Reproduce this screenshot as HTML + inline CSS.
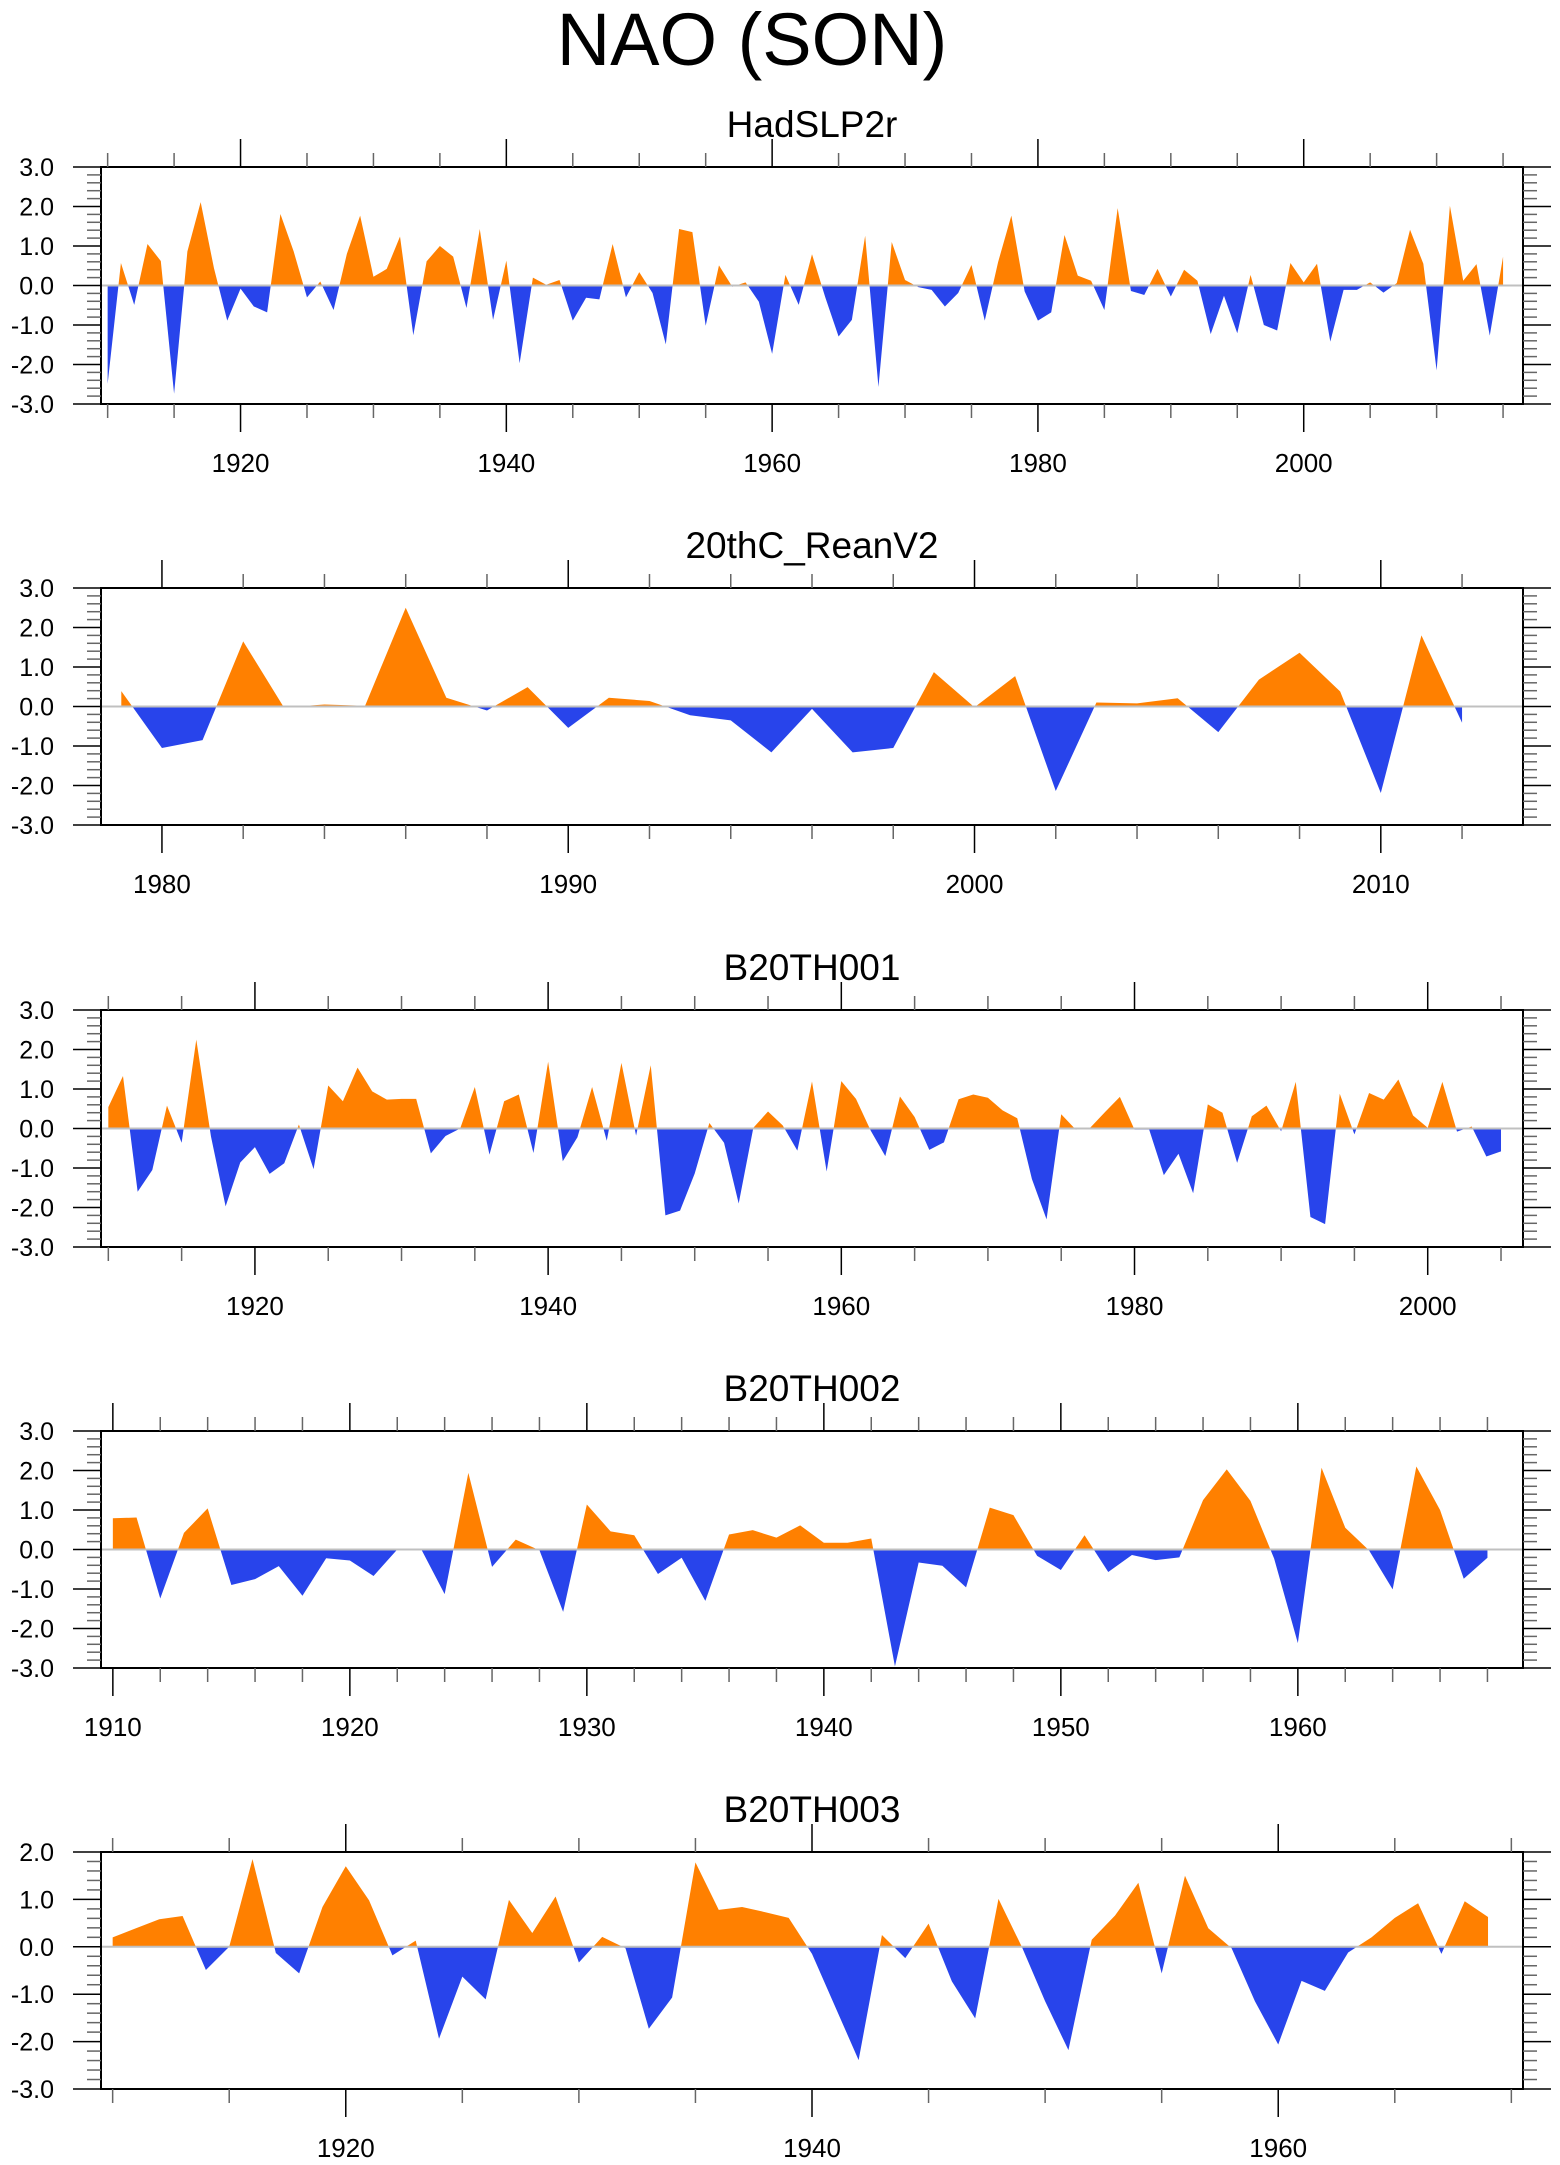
<!DOCTYPE html>
<html><head><meta charset="utf-8"><title>NAO (SON)</title>
<style>
html,body{margin:0;padding:0;background:#fff;}
svg{display:block;font-family:"Liberation Sans",Arial,sans-serif;}
</style></head>
<body>
<svg id="chart" width="1560" height="2165" viewBox="0 0 1560 2165" xmlns="http://www.w3.org/2000/svg">
<text x="752" y="65" font-size="74" text-anchor="middle" fill="#000">NAO (SON)</text>
</svg>
<script>
// ---- data (NAO SON index per year) ----
const hadStart = 1910;
const hadValues = [-2.49,0.57,-0.49,1.05,0.62,-2.74,0.86,2.11,0.44,-0.89,
-0.08,-0.53,-0.68,1.81,0.86,-0.30,0.10,-0.62,0.80,1.77,
0.22,0.42,1.24,-1.26,0.61,1.00,0.73,-0.57,1.43,-0.87,
0.63,-1.97,0.20,0.02,0.14,-0.89,-0.31,-0.35,1.05,-0.30,
0.34,-0.19,-1.49,1.43,1.35,-1.02,0.51,-0.03,0.08,-0.41,
-1.73,0.27,-0.49,0.79,-0.30,-1.29,-0.87,1.26,-2.57,1.10,
0.14,-0.04,-0.11,-0.53,-0.19,0.52,-0.89,0.59,1.77,-0.15,
-0.89,-0.68,1.28,0.25,0.12,-0.62,1.96,-0.14,-0.24,0.42,
-0.28,0.40,0.12,-1.23,-0.26,-1.21,0.27,-1.00,-1.14,0.57,
0.08,0.55,-1.42,-0.11,-0.11,0.08,-0.18,0.06,1.41,0.55,
-2.15,2.02,0.12,0.54,-1.27,0.73];
const reanStart = 1979;
const reanValues = [0.39,-1.05,-0.85,1.65,-0.02,0.05,0.02,2.50,0.22,-0.10,
0.49,-0.54,0.22,0.14,-0.22,-0.35,-1.16,-0.06,-1.16,-1.05,
0.87,-0.02,0.77,-2.14,0.10,0.08,0.21,-0.65,0.68,1.36,
0.38,-2.19,1.80,-0.41];
const b1Start = 1910;
const b1Values = [0.54,1.33,-1.60,-1.05,0.58,-0.36,2.25,-0.20,-1.97,-0.86,
-0.47,-1.15,-0.88,0.10,-1.03,1.09,0.69,1.54,0.94,0.73,
0.75,0.75,-0.63,-0.19,0.00,1.05,-0.66,0.69,0.86,-0.62,
1.69,-0.83,-0.22,1.05,-0.31,1.66,-0.18,1.60,-2.20,-2.08,
-1.14,0.14,-0.36,-1.90,0.02,0.43,0.08,-0.56,1.19,-1.09,
1.20,0.75,-0.05,-0.70,0.81,0.29,-0.54,-0.35,0.74,0.86,
0.78,0.46,0.26,-1.28,-2.30,0.36,-0.03,0.03,0.42,0.80,
-0.03,-0.03,-1.18,-0.64,-1.64,0.61,0.40,-0.87,0.31,0.58,
-0.07,1.18,-2.24,-2.42,0.88,-0.15,0.90,0.73,1.24,0.33,
0.02,1.18,-0.08,0.05,-0.71,-0.58];
const b2Start = 1910;
const b2Values = [0.79,0.81,-1.24,0.42,1.04,-0.90,-0.75,-0.42,-1.17,-0.22,
-0.28,-0.67,0.00,0.02,-1.13,1.94,-0.44,0.25,-0.02,-1.58,
1.14,0.46,0.36,-0.62,-0.21,-1.30,0.38,0.49,0.30,0.61,
0.17,0.17,0.28,-2.96,-0.33,-0.41,-0.96,1.06,0.87,-0.16,
-0.52,0.36,-0.57,-0.14,-0.27,-0.20,1.25,2.03,1.23,-0.23,
-2.37,2.07,0.55,-0.02,-1.01,2.10,1.00,-0.74,-0.21];
const b3Start = 1910;
const b3Values = [0.20,0.39,0.58,0.65,-0.49,0.00,1.85,-0.13,-0.56,0.84,
1.70,0.98,-0.18,0.13,-1.94,-0.63,-1.11,0.99,0.29,1.06,
-0.33,0.21,-0.03,-1.73,-1.07,1.78,0.78,0.84,0.73,0.61,
-0.15,-1.27,-2.39,0.25,-0.24,0.49,-0.73,-1.51,1.01,0.00,
-1.15,-2.18,0.15,0.66,1.35,-0.56,1.50,0.39,-0.03,-1.15,
-2.06,-0.72,-0.93,-0.12,0.20,0.61,0.92,-0.15,0.96,0.63];

// ---- tick label arrays ----
const titles = ["HadSLP2r","20thC_ReanV2","B20TH001","B20TH002","B20TH003"];
const yTicks36 = [-3,-2,-1,0,1,2,3];
const yTicks5 = [-3,-2,-1,0,1,2];
const xLabels1 = [1920,1940,1960,1980,2000];
const xLabels2 = [1980,1990,2000,2010];
const xLabels3 = [1920,1940,1960,1980,2000];
const xLabels4 = [1910,1920,1930,1940,1950,1960];
const xLabels5 = [1920,1940,1960];

// ---- layout (not data) ----
const L = 101, R = 1523;
const panels = [
 {title:titles[0], start:hadStart, vals:hadValues, top:167, bot:404, xmin:1909.5, xmax:2016.5, ymin:-3, ymax:3, yt:yTicks36, xl:xLabels1, minor:5},
 {title:titles[1], start:reanStart, vals:reanValues, top:588, bot:825, xmin:1978.5, xmax:2013.5, ymin:-3, ymax:3, yt:yTicks36, xl:xLabels2, minor:2},
 {title:titles[2], start:b1Start, vals:b1Values, top:1010, bot:1247, xmin:1909.5, xmax:2006.5, ymin:-3, ymax:3, yt:yTicks36, xl:xLabels3, minor:5},
 {title:titles[3], start:b2Start, vals:b2Values, top:1431, bot:1668, xmin:1909.5, xmax:1969.5, ymin:-3, ymax:3, yt:yTicks36, xl:xLabels4, minor:2},
 {title:titles[4], start:b3Start, vals:b3Values, top:1852, bot:2089, xmin:1909.5, xmax:1970.5, ymin:-3, ymax:2, yt:yTicks5, xl:xLabels5, minor:5}
];
const NS = "http://www.w3.org/2000/svg";
const svg = document.getElementById("chart");
function mk(tag, attrs, parent){
  const e = document.createElementNS(NS, tag);
  for (const k in attrs) e.setAttribute(k, attrs[k]);
  (parent||svg).appendChild(e);
  return e;
}
panels.forEach((p, pi) => {
  const g = mk("g", {});
  
  
  const xs = v => L + (v - p.xmin) / (p.xmax - p.xmin) * (R - L);
  const ys = v => p.bot - (v - p.ymin) / (p.ymax - p.ymin) * (p.bot - p.top);
  const y0 = ys(0);
  const t = mk("text", {x: 812, y: p.top - 30, "font-size": 37, "text-anchor": "middle", fill: "#000"}, g);
  t.textContent = p.title;
  
  
  const defs = mk("defs", {}, g);
  const cu = mk("clipPath", {id: "cu" + pi}, defs);
  mk("rect", {x: L, y: p.top, width: R - L, height: y0 - p.top}, cu);
  const cd = mk("clipPath", {id: "cd" + pi}, defs);
  mk("rect", {x: L, y: y0, width: R - L, height: p.bot - y0}, cd);
  let d = "";
  p.vals.forEach((v, i) => {
    d += (i ? " L" : "M") + xs(p.start + i).toFixed(2) + "," + ys(v).toFixed(2);
  });
  const xe = xs(p.start + p.vals.length - 1), xb = xs(p.start);
  d += " L" + xe.toFixed(2) + "," + y0.toFixed(2) + " L" + xb.toFixed(2) + "," + y0.toFixed(2) + " Z";
  const pos = mk("path", {d: d, fill: "#FF8000", "clip-path": "url(#cu" + pi + ")"}, g);
  
  
  const neg = mk("path", {d: d, fill: "#2844EB", "clip-path": "url(#cd" + pi + ")"}, g);
  
  
  const zl = mk("line", {x1: L, x2: R, y1: y0, y2: y0, stroke: "#c0c0c0", "stroke-width": 2}, g);
  
  
  const box = mk("rect", {x: L, y: p.top, width: R - L, height: p.bot - p.top, fill: "none", stroke: "#000", "stroke-width": 2}, g);
  
  
  for (let k = Math.round(p.ymin * 5); k <= Math.round(p.ymax * 5); k++) {
    const v = k / 5, y = ys(v), major = (k % 5 === 0);
    const len = major ? 28 : 14, col = major ? "#000" : "#666";
    mk("line", {x1: L - len, x2: L, y1: y, y2: y, stroke: col, "stroke-width": 1.5}, g);
    mk("line", {x1: R, x2: R + len, y1: y, y2: y, stroke: col, "stroke-width": 1.5}, g);
  }
  p.yt.forEach(v => {
    const tl = mk("text", {x: 54, y: ys(v) + 9, "font-size": 25, "text-anchor": "end", fill: "#000"}, g);
    tl.textContent = v.toFixed(1);
    
    
  });
  const first = Math.ceil(p.xmin / p.minor) * p.minor;
  for (let yr = first; yr <= p.xmax; yr += p.minor) {
    const x = xs(yr), major = p.xl.indexOf(yr) >= 0;
    const len = major ? 28 : 14, col = major ? "#000" : "#666";
    mk("line", {x1: x, x2: x, y1: p.bot, y2: p.bot + len, stroke: col, "stroke-width": 1.5}, g);
    mk("line", {x1: x, x2: x, y1: p.top - len, y2: p.top, stroke: col, "stroke-width": 1.5}, g);
  }
  p.xl.forEach(yr => {
    const tl = mk("text", {x: xs(yr), y: p.bot + 68, "font-size": 26, "text-anchor": "middle", fill: "#000"}, g);
    tl.textContent = String(yr);
    
    
  });
});
</script>
</body></html>
